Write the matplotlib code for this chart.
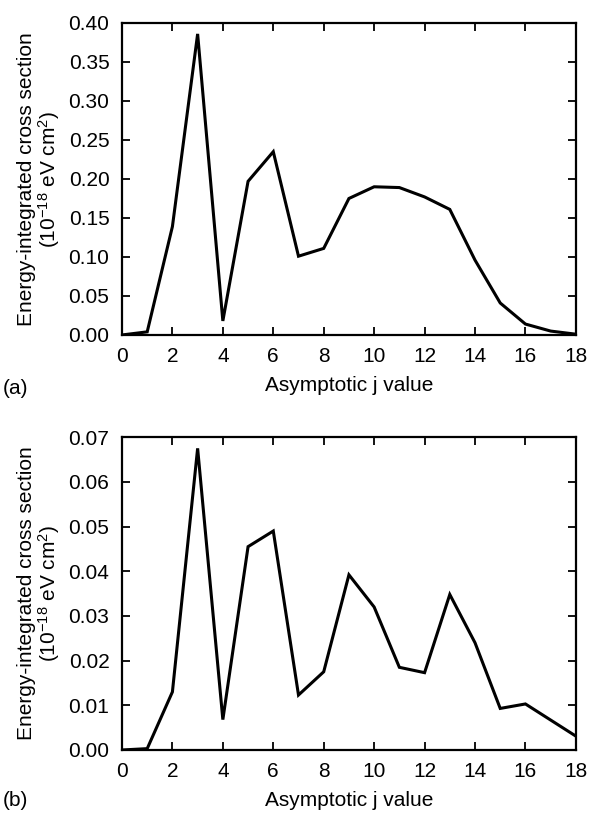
import numpy as np
import matplotlib
matplotlib.use("Agg")
import matplotlib.pyplot as plt

plt.rcParams['font.family'] = ['Liberation Sans', 'DejaVu Sans']
plt.rcParams['mathtext.fontset'] = 'custom'
plt.rcParams['mathtext.rm'] = 'Liberation Sans'
plt.rcParams['mathtext.it'] = 'Liberation Sans:italic'

# asymptotic j values
j = np.arange(0, 19)

# panel (a) cross sections (10^-18 eV cm^2)
sigma_a = [0.000, 0.004, 0.139, 0.386, 0.018, 0.197, 0.235, 0.101, 0.111,
           0.175, 0.190, 0.189, 0.177, 0.161, 0.096, 0.041, 0.014, 0.005, 0.001]

# panel (b) cross sections (10^-18 eV cm^2)
sigma_b = [0.0000, 0.0003, 0.0130, 0.0675, 0.0068, 0.0455, 0.0490, 0.0123,
           0.0175, 0.0392, 0.0320, 0.0185, 0.0173, 0.0348, 0.0240, 0.0093,
           0.0103, 0.0067, 0.0031]

ylabel = "Energy-integrated cross section\n(10$^{-18}$ eV cm$^{2}$)"
fs = 15

fig = plt.figure(figsize=(5.91, 8.21), dpi=100)

def panel(rect, y, ymax, ystep, tag, tag_y):
    ax = fig.add_axes(rect)
    ax.plot(j, y, color='black', lw=2.2, solid_joinstyle='miter')
    ax.set_xlim(0, 18)
    ax.set_ylim(0, ymax)
    ax.set_xticks(np.arange(0, 19, 2))
    yt = np.arange(0, ymax + ystep / 2, ystep)
    ax.set_yticks(yt)
    ax.set_yticklabels(["%.2f" % v for v in yt])
    ax.tick_params(direction='in', top=True, right=True, length=6,
                   width=1.3, labelsize=fs, pad=9)
    for s in ax.spines.values():
        s.set_linewidth(1.6)
    ax.set_xlabel("Asymptotic j value", fontsize=fs, labelpad=7)
    ax.set_ylabel(ylabel, fontsize=fs, labelpad=5, linespacing=1.0)
    fig.text(0.005, tag_y, tag, fontsize=fs, ha='left', va='center')
    return ax

panel([0.2064, 0.592, 0.768, 0.380], sigma_a, 0.40, 0.05, "(a)", 1 - 388 / 821)
panel([0.2064, 0.0865, 0.768, 0.381], sigma_b, 0.07, 0.01, "(b)", 1 - 800 / 821)

fig.savefig("out.png", dpi=100)
